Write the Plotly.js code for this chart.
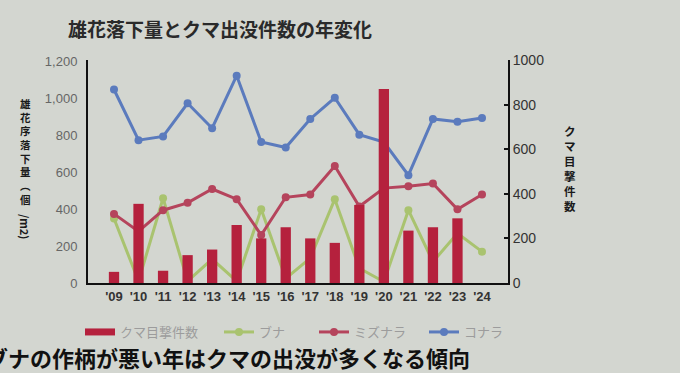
<!DOCTYPE html>
<html><head><meta charset="utf-8">
<script src="https://cdn.plot.ly/plotly-3.0.1.min.js"></script>
<style>html,body{margin:0;padding:0;background:#d3d6d0;overflow:hidden}</style>
</head><body><div id="chart" style="width:680px;height:373px"></div>
<script>
const years = ["'09","'10","'11","'12","'13","'14","'15","'16","'17","'18","'19","'20","'21","'22","'23","'24"];
const bearSightings = [50,355,55,125,150,260,200,250,200,180,350,870,235,250,290,null];
const buna = [350,10,460,10,130,10,400,25,135,455,80,7,395,115,270,170];
const mizunara = [375,280,395,435,510,455,260,465,480,635,415,515,525,540,400,480];
const konara = [1050,775,795,975,840,1125,765,735,890,1005,805,765,585,890,875,895];

const titleText = '雄花落下量とクマ出没件数の年変化';
const leftTitleChars = ['雄','花','序','落','下','量','︵','個'];
const leftTitleTail = '/m2)';
const rightTitleChars = ['ク','マ','目','撃','件','数'];
const footText = 'ブナの作柄が悪い年はクマの出没が多くなる傾向';

const CJK = '"Noto Sans CJK JP", "Noto Sans", sans-serif';
const NUM = '"Liberation Sans", Arial, sans-serif';

// pixel helpers for layout placement (plot area: x 88..508, y 60..283)
const PX = px => (px-88)/420;
const PY = py => (283-py)/223;

const BAR_COLOR = '#b5213d';
const traces = [
  {type:'bar', name:'クマ目撃件数', x:years, y:bearSightings, yaxis:'y2',
   marker:{color:BAR_COLOR}, showlegend:false},
  {type:'scatter', mode:'lines+markers', name:'ブナ', x:years, y:buna,
   line:{color:'#a9c36f', width:3}, marker:{size:8, color:'#a9c36f'}, legend:'legend2'},
  {type:'scatter', mode:'lines+markers', name:'ミズナラ', x:years, y:mizunara,
   line:{color:'#b5445c', width:3}, marker:{size:8, color:'#b5445c'}, legend:'legend3'},
  {type:'scatter', mode:'lines+markers', name:'コナラ', x:years, y:konara,
   line:{color:'#5b7bbd', width:3}, marker:{size:8, color:'#5b7bbd'}, legend:'legend4'},
  // legend-only entry so the bar series shows a wide bar swatch like the reference
  {type:'scatter', mode:'lines', name:'クマ目撃件数', x:[null], y:[null], yaxis:'y2',
   line:{color:BAR_COLOR, width:7}, legend:'legend', showlegend:true, hoverinfo:'skip'}
];

const legBase = {orientation:'h', yanchor:'middle', y:PY(332), xanchor:'left',
  bgcolor:'rgba(0,0,0,0)', font:{family:CJK, size:13, color:'#9c9c9c'}};

const annotations = [
  {xref:'paper', yref:'paper', x:PX(25), y:PY(151), xanchor:'center', yanchor:'middle',
   showarrow:false, text:leftTitleChars.join('<br>'),
   font:{family:CJK, size:10.5, color:'#1a1a1a', weight:'bold'}},
  {xref:'paper', yref:'paper', x:PX(25), y:PY(227), xanchor:'center', yanchor:'middle',
   showarrow:false, text:leftTitleTail, textangle:90,
   font:{family:CJK, size:11, color:'#1a1a1a', weight:'bold'}},
  {xref:'paper', yref:'paper', x:PX(570), y:PY(168), xanchor:'center', yanchor:'middle',
   showarrow:false, text:rightTitleChars.join('<br>'),
   font:{family:CJK, size:11.5, color:'#1a1a1a', weight:'bold'}},
  {xref:'paper', yref:'paper', x:PX(-16), y:PY(357), xanchor:'left', yanchor:'middle',
   showarrow:false, text:footText,
   font:{family:CJK, size:22, color:'#111', weight:'bold'}}
];

const layout = {
  width:680, height:373,
  paper_bgcolor:'#d3d6d0', plot_bgcolor:'#d3d6d0',
  margin:{l:88, r:172, t:60, b:90},
  bargap:0.58,
  showlegend:true,
  title:{text:titleText, x:220/680, xref:'container', xanchor:'center',
    y:1-30/373, yref:'container', yanchor:'middle',
    font:{family:CJK, size:19, color:'#2a2a2a', weight:'bold'}},
  xaxis:{type:'category', showline:true, linecolor:'#111', linewidth:2, ticks:'',
    tickfont:{family:NUM, size:13, color:'#333', weight:'bold'}, showgrid:false, zeroline:false},
  yaxis:{range:[0,1210], tickvals:[0,200,400,600,800,1000,1200],
    ticktext:['0','200','400','600','800','1,000','1,200'],
    showline:true, linecolor:'#111', linewidth:2, ticks:'', showgrid:false, zeroline:false,
    tickfont:{family:NUM, size:13, color:'#666'}, ticklabelstandoff:6},
  yaxis2:{overlaying:'y', side:'right', range:[0,1000], tickvals:[0,200,400,600,800,1000],
    showline:true, linecolor:'#111', linewidth:2, ticks:'inside', ticklen:4, tickwidth:2, tickcolor:'#111',
    showgrid:false, zeroline:false, tickfont:{family:NUM, size:14, color:'#333'}},
  legend: Object.assign({}, legBase, {x:PX(80)}),
  legend2: Object.assign({}, legBase, {x:PX(219)}),
  legend3: Object.assign({}, legBase, {x:PX(314)}),
  legend4: Object.assign({}, legBase, {x:PX(424)}),
  annotations: annotations
};

Plotly.newPlot('chart', traces, layout, {displayModeBar:false, staticPlot:true});
</script></body></html>
